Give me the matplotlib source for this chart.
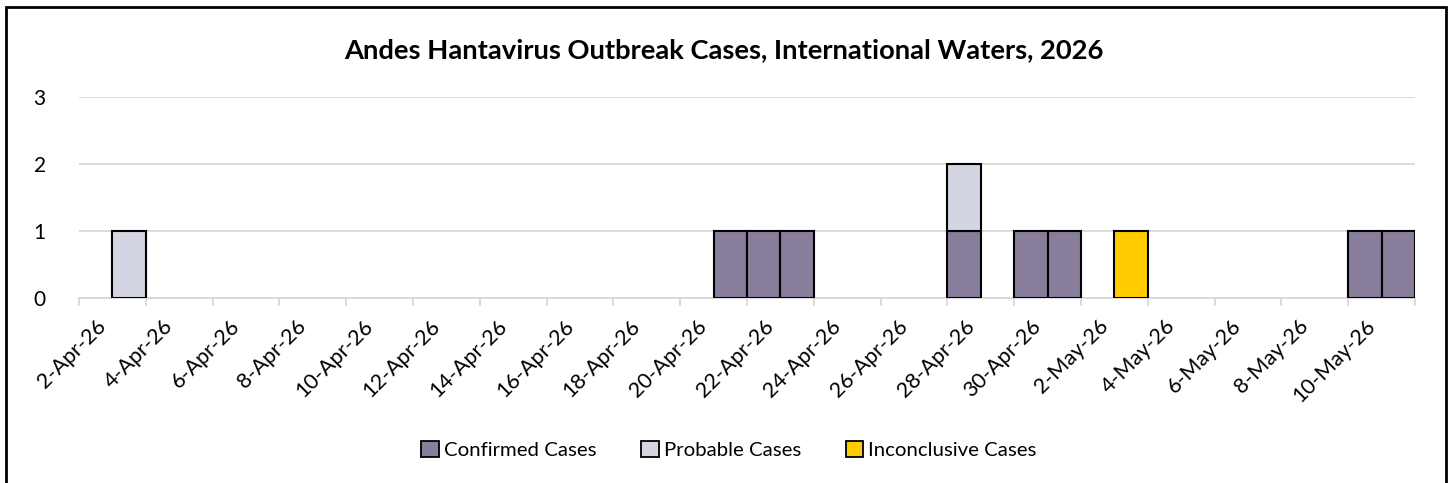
import matplotlib
matplotlib.use("Agg")
import matplotlib.pyplot as plt
import matplotlib.dates as mdates
from matplotlib.patches import Rectangle, Patch
import numpy as np
import pandas as pd

plt.rcParams['font.family'] = ['Lato', 'DejaVu Sans']

# ---- data ----
dates = pd.date_range("2026-04-02", "2026-05-11", freq="D")
confirmed_days = ["2026-04-21", "2026-04-22", "2026-04-23", "2026-04-28",
                  "2026-04-30", "2026-05-01", "2026-05-10", "2026-05-11"]
probable_days = ["2026-04-03", "2026-04-28"]
inconclusive_days = ["2026-05-03"]

confirmed = np.array([1 if d.strftime("%Y-%m-%d") in confirmed_days else 0 for d in dates])
probable = np.array([1 if d.strftime("%Y-%m-%d") in probable_days else 0 for d in dates])
inconclusive = np.array([1 if d.strftime("%Y-%m-%d") in inconclusive_days else 0 for d in dates])

title = "Andes Hantavirus Outbreak Cases, International Waters, 2026"
series_names = ["Confirmed Cases", "Probable Cases", "Inconclusive Cases"]
colors = ["#887E9C", "#D3D5E2", "#FFCC00"]

# ---- figure ----
W, H = 1448, 483
fig = plt.figure(figsize=(W / 100, H / 100), dpi=100)
ax = fig.add_axes([79 / W, 1 - 298 / H, (1415 - 79) / W, (298 - 97) / H])

x = mdates.date2num(dates.to_pydatetime())
edge = dict(edgecolor="black", linewidth=1.5, width=1.0, align="center", zorder=3)

def draw(vals, bottom, color):
    m = vals > 0
    ax.bar(x[m], vals[m], bottom=bottom[m], color=color, **edge)

zero = np.zeros(len(x))
draw(confirmed, zero, colors[0])
draw(probable, confirmed.astype(float), colors[1])
draw(inconclusive, (confirmed + probable).astype(float), colors[2])

ax.set_xlim(x[0] - 0.5, x[-1] + 0.5)
ax.set_ylim(0, 3)
ax.set_yticks([0, 1, 2, 3])
ax.yaxis.grid(True, color="#D9D9D9", linewidth=1.3, zorder=0)
ax.set_axisbelow(True)

# major ticks: labels at every other day (no marks); minor: boundary marks
ax.set_xticks(x[::2])
ax.set_xticklabels([f"{d.day}-{d.strftime('%b')}-{d.strftime('%y')}" for d in dates[::2]],
                   rotation=45, ha="right", rotation_mode="anchor", fontsize=15.5)
ax.set_xticks(np.append(x[::2] - 0.5, x[-1] + 0.5), minor=True)
ax.tick_params(axis="x", which="major", length=0, pad=13)
ax.tick_params(axis="x", which="minor", length=6, color="#D9D9D9", width=1.3)
ax.tick_params(axis="y", length=0, labelsize=15, pad=24)

for s in ["top", "right", "left"]:
    ax.spines[s].set_visible(False)
ax.spines["bottom"].set_color("#D9D9D9")
ax.spines["bottom"].set_linewidth(1.3)

fig.text(724 / W, 1 - 50 / H, title, ha="center", va="center",
         fontsize=19.7, fontweight="bold")

handles = [Patch(facecolor=c, edgecolor="black", linewidth=1.3) for c in colors]
fig.legend(handles, series_names, loc="center", bbox_to_anchor=(729 / W, 1 - 450 / H),
           ncol=3, frameon=False, fontsize=14.7, handlelength=0.85, handleheight=0.85,
           handletextpad=0.25, columnspacing=2.2)

# outer border (left, top, right)
fig.add_artist(Rectangle((6 / W, -0.1), (1446 - 6) / W, 1.1 - 7 / H,
                         transform=fig.transFigure, fill=False,
                         edgecolor="black", linewidth=2, clip_on=False))

fig.savefig("out.png", dpi=100)
